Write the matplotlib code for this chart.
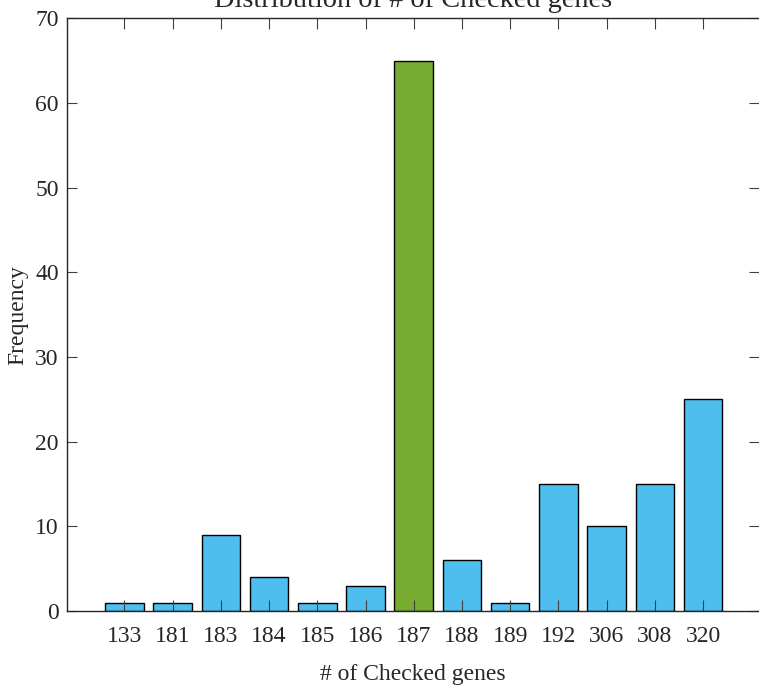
"""Bar chart of the number of checked genes per run."""

import matplotlib

matplotlib.use("Agg")
import matplotlib.pyplot as plt

categories = ["133", "181", "183", "184", "185", "186", "187",
              "188", "189", "192", "306", "308", "320"]
frequency = [1, 1, 9, 4, 1, 3, 65, 6, 1, 15, 10, 15, 25]
highlight = "187"

BLUE = "#4DBEEE"
GREEN = "#77AC30"


def main() -> None:
    plt.rcParams["font.family"] = ["Liberation Serif", "DejaVu Serif"]
    plt.rcParams["font.size"] = 17

    fig = plt.figure(figsize=(7.59, 6.87), dpi=100)
    ax = fig.add_axes([67 / 759, 76 / 687, (759 - 67) / 759, (611 - 18.3) / 687])

    positions = list(range(1, len(categories) + 1))
    colors = [GREEN if c == highlight else BLUE for c in categories]
    ax.bar(positions, frequency, width=0.8, color=colors,
           edgecolor="black", linewidth=1.0, zorder=1)

    ax.set_xlim(-0.19, 14.16)
    ax.set_ylim(0, 70)
    ax.set_xticks(positions)
    ax.set_xticklabels(categories)
    ax.set_yticks(range(0, 71, 10))

    ax.spines["right"].set_visible(False)
    for side in ("left", "bottom", "top"):
        ax.spines[side].set_color("#262626")
        ax.spines[side].set_linewidth(1.0)
        ax.spines[side].set_zorder(3)

    ax.tick_params(axis="both", direction="in", length=7, width=0.8,
                   color="#404040", labelcolor="#262626",
                   top=True, right=True)
    ax.tick_params(axis="x", length=8, pad=11)
    ax.tick_params(axis="y", pad=6)

    ax.set_xlabel("# of Checked genes", color="#262626", labelpad=12)
    ax.set_ylabel("Frequency", color="#262626", labelpad=5)
    ax.set_title("Distribution of # of Checked genes", color="#262626", pad=8)

    fig.savefig("out.png", dpi=100)
    plt.close(fig)


if __name__ == "__main__":
    main()
